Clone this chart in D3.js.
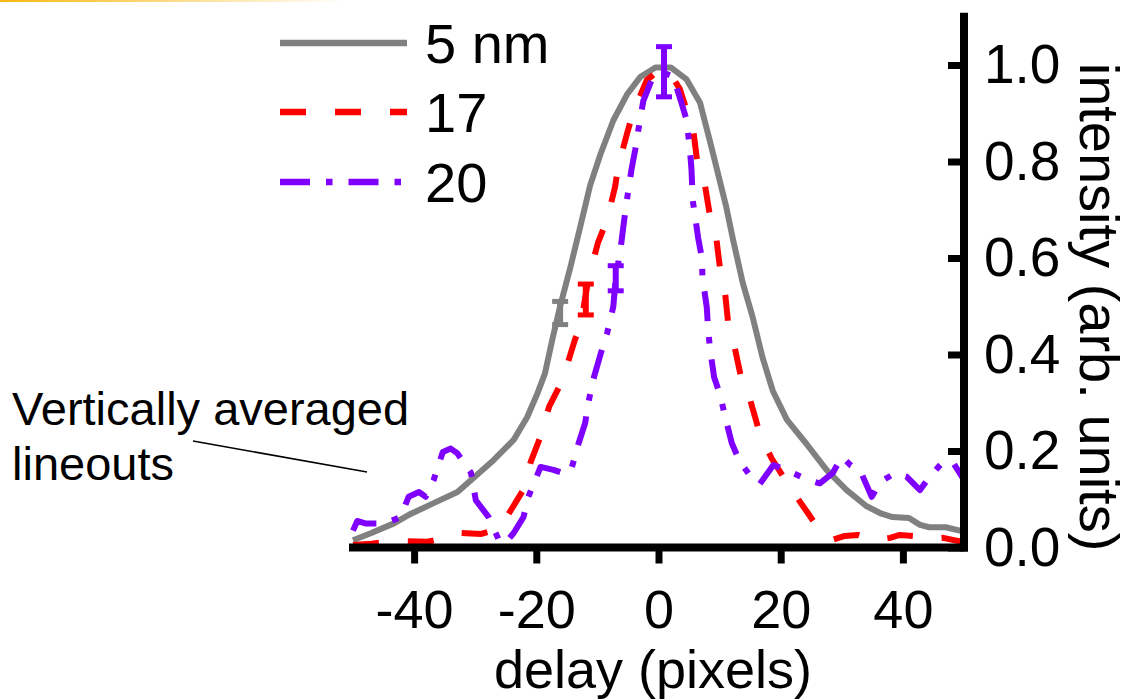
<!DOCTYPE html>
<html>
<head>
<meta charset="utf-8">
<script src="https://cdn.jsdelivr.net/npm/d3@7"></script>
<style>
  body { margin: 0; background: #fff; }
  text { font-family: "Liberation Sans", Arial, sans-serif; fill: #000; }
</style>
</head>
<body>
<div id="chart"></div>
<script>
// lineouts: delay (pixels) vs intensity (arb. units)
var delay5 = [-50, -47, -43.3, -40.5, -36.8, -32.9, -30.3, -27, -23.7, -21.5, -19.8, -18.6, -17.4, -16.1, -14.4, -12.8, -11.2, -9.5, -7.4, -5.1, -3, -0.5, 2, 4.6, 6.8, 8.7, 11.1, 12.2, 13.8, 15.4, 17, 18.7, 21, 24.2, 27.5, 30.8, 34, 36.5, 38.3, 41, 42.8, 44.3, 47, 50];
var int5 = [0.015, 0.03, 0.05, 0.07, 0.092, 0.115, 0.144, 0.181, 0.223, 0.27, 0.32, 0.36, 0.43, 0.5, 0.582, 0.665, 0.75, 0.815, 0.885, 0.94, 0.975, 0.995, 0.995, 0.97, 0.922, 0.828, 0.705, 0.638, 0.548, 0.478, 0.395, 0.325, 0.265, 0.215, 0.161, 0.119, 0.086, 0.07, 0.063, 0.061, 0.047, 0.042, 0.042, 0.033];

var delay17 = [-50, -47, -44, -41.7, -37.8, -35, -32.4, -29.1, -27, -24.8, -22.3, -20.9, -19.3, -17.9, -15.7, -13.7, -12.8, -11.7, -11.2, -9.9, -8.4, -7.1, -6.6, -5.1, -4.2, -1.9, 0.2, 1.9, 3.5, 4.6, 5.7, 6.3, 7.6, 8.4, 9.5, 10.1, 10.9, 11.4, 12.5, 13.6, 15, 16.6, 18.5, 21.5, 24.3, 26.4, 28.5, 30.5, 32.6, 35.4, 37.9, 39.5, 41.7, 44.4, 46.6, 50];
var int17 = [0.005, 0.008, 0.012, 0.013, 0.012, 0.02, 0.03, 0.028, 0.035, 0.064, 0.116, 0.178, 0.23, 0.292, 0.347, 0.43, 0.457, 0.54, 0.57, 0.632, 0.68, 0.748, 0.79, 0.86, 0.9, 0.969, 0.99, 0.983, 0.95, 0.907, 0.865, 0.803, 0.751, 0.689, 0.637, 0.575, 0.527, 0.465, 0.413, 0.347, 0.306, 0.235, 0.185, 0.125, 0.074, 0.035, 0.016, 0.024, 0.026, 0.015, 0.02, 0.026, 0.024, 0.018, 0.02, 0.011];

var delay20 = [-50, -49.3, -48, -45.8, -43.8, -42.2, -40.9, -39.2, -38.1, -36.8, -35.3, -34, -32.9, -30.7, -29.9, -27.8, -25.9, -24.7, -23.7, -22.1, -21.3, -19.3, -17.2, -15.8, -14.4, -13.1, -12, -11.5, -10.7, -9.5, -8.4, -7.4, -7, -6.2, -5.6, -5, -4.4, -3.8, -3.3, -2.5, -1.1, 0.7, 2.4, 3.8, 4.6, 5.15, 5.4, 5.6, 6.5, 7.1, 7.2, 7.9, 8.1, 8.4, 9.1, 10.1, 10.9, 12, 13.3, 15.5, 16.6, 18.8, 21.5, 24.5, 26.4, 28.5, 30, 31.5, 33, 34.9, 36.3, 38.7, 40.6, 42.8, 44.4, 46.6, 48.3, 50];
var int20 = [0.035, 0.055, 0.05, 0.05, 0.055, 0.063, 0.105, 0.115, 0.105, 0.14, 0.198, 0.205, 0.195, 0.155, 0.098, 0.063, 0.009, 0.015, 0.03, 0.063, 0.105, 0.167, 0.161, 0.155, 0.156, 0.215, 0.258, 0.299, 0.347, 0.4, 0.445, 0.499, 0.558, 0.62, 0.68, 0.735, 0.785, 0.825, 0.865, 0.925, 0.97, 0.985, 0.976, 0.92, 0.886, 0.824, 0.783, 0.72, 0.641, 0.6, 0.559, 0.498, 0.457, 0.415, 0.353, 0.316, 0.271, 0.216, 0.178, 0.14, 0.132, 0.171, 0.157, 0.14, 0.133, 0.154, 0.188, 0.17, 0.16, 0.105, 0.136, 0.154, 0.147, 0.119, 0.147, 0.178, 0.174, 0.14];

// error bars
var errDelay = [-16.1, -11.9, -7.0, 0.9];
var errInt = [0.486, 0.514, 0.558, 0.986];
var errHalf = [0.024, 0.032, 0.026, 0.052];
var errSeries = [0, 1, 2, 2];

var seriesNames = ["5 nm", "17", "20"];
var seriesColors = ["#808080", "#ff0000", "#7f00ff"];
var seriesDash = [null, "26,29", "30,16,6.5,16"];

var xMajor = [-40, -20, 0, 20, 40];
var xMinor = [-50, -30, -10, 10, 30, 50];
var yMajor = [0, 0.2, 0.4, 0.6, 0.8, 1.0];
var yMinor = [0.1, 0.3, 0.5, 0.7, 0.9, 1.1];

var width = 1134, height = 700;

var svg = d3.select("#chart").append("svg")
    .attr("width", width)
    .attr("height", height);

// thin golden stripe at the top left
var grad = svg.append("defs").append("linearGradient")
    .attr("id", "topfade")
    .attr("x1", "0").attr("x2", "1").attr("y1", "0").attr("y2", "0");
grad.append("stop").attr("offset", "0").attr("stop-color", "#f8b810");
grad.append("stop").attr("offset", "1").attr("stop-color", "#ffffff");
svg.append("rect")
    .attr("x", 0).attr("y", 0)
    .attr("width", 345).attr("height", 2)
    .attr("fill", "url(#topfade)");

var x = d3.scaleLinear().domain([-50, 50]).range([353, 964]);
var y = d3.scaleLinear().domain([0, 1.1]).range([547.5, 547.5 - 482.5 * 1.1]);

var series = [
    d3.zip(delay5, int5),
    d3.zip(delay17, int17),
    d3.zip(delay20, int20)
];

var line = d3.line()
    .x(function(d) { return x(d[0]); })
    .y(function(d) { return y(d[1]); });

series.forEach(function(s, i) {
    svg.append("path")
        .datum(s)
        .attr("d", line)
        .attr("fill", "none")
        .attr("stroke", seriesColors[i])
        .attr("stroke-width", 6)
        .attr("stroke-linejoin", "round")
        .attr("stroke-dasharray", seriesDash[i]);
});

// error bars
errDelay.forEach(function(d, i) {
    var g = svg.append("g")
        .attr("stroke", seriesColors[errSeries[i]]);
    var cx = x(d);
    var top = y(errInt[i] + errHalf[i]);
    var bot = y(errInt[i] - errHalf[i]);
    g.append("line")
        .attr("x1", cx).attr("x2", cx)
        .attr("y1", top).attr("y2", bot)
        .attr("stroke-width", 6);
    [top, bot].forEach(function(yy) {
        g.append("line")
            .attr("x1", cx - 8).attr("x2", cx + 8)
            .attr("y1", yy).attr("y2", yy)
            .attr("stroke-width", 5);
    });
});

// bottom axis
var xAxisG = svg.append("g").attr("transform", "translate(0," + y(0) + ")");
xAxisG.call(d3.axisBottom(x).tickValues(xMinor).tickSize(9).tickSizeOuter(0).tickFormat(""));
xAxisG.call(d3.axisBottom(x).tickValues(xMajor).tickSize(16).tickSizeOuter(0).tickPadding(26)
    .tickFormat(function(d) { return String(d); }));
xAxisG.selectAll(".domain").remove();
xAxisG.selectAll(".tick line").attr("stroke", "#000").attr("stroke-width", 7);
xAxisG.selectAll(".tick text")
    .attr("font-size", 54)
    .attr("font-family", null);
xAxisG.append("line")
    .attr("x1", x(-50)).attr("x2", x(50))
    .attr("y1", 0).attr("y2", 0)
    .attr("stroke", "#000")
    .attr("stroke-width", 8)
    .attr("stroke-linecap", "square");

// right axis, ticks pointing inward
var yAxisG = svg.append("g").attr("transform", "translate(" + x(50) + ",0)");
yAxisG.call(d3.axisRight(y).tickValues(yMinor).tickSize(-9).tickSizeOuter(0).tickFormat(""));
yAxisG.call(d3.axisRight(y).tickValues(yMajor).tickSize(-16).tickSizeOuter(0).tickPadding(20)
    .tickFormat(d3.format(".1f")));
yAxisG.selectAll(".domain").remove();
yAxisG.selectAll(".tick line").attr("stroke", "#000").attr("stroke-width", 7);
yAxisG.selectAll(".tick text")
    .attr("font-size", 55)
    .attr("font-family", null);
yAxisG.append("line")
    .attr("x1", 0).attr("x2", 0)
    .attr("y1", y(0)).attr("y2", y(1.1))
    .attr("stroke", "#000")
    .attr("stroke-width", 8)
    .attr("stroke-linecap", "square");

// axis titles
svg.append("text")
    .attr("x", 653)
    .attr("y", 688)
    .attr("text-anchor", "middle")
    .attr("font-size", 54)
    .text("delay (pixels)");

svg.append("text")
    .attr("transform", "translate(1080,307) rotate(90)")
    .attr("text-anchor", "middle")
    .attr("font-size", 56)
    .text("intensity (arb. units)");

// legend
var legendY = [43, 112, 182];
seriesNames.forEach(function(name, i) {
    svg.append("line")
        .attr("x1", 280).attr("x2", 407)
        .attr("y1", legendY[i]).attr("y2", legendY[i])
        .attr("stroke", seriesColors[i])
        .attr("stroke-width", 6.5)
        .attr("stroke-dasharray", seriesDash[i]);
    svg.append("text")
        .attr("x", 425)
        .attr("y", legendY[i] + 20)
        .attr("font-size", 56)
        .text(name);
});

// annotation
svg.append("text")
    .attr("x", 12)
    .attr("y", 425)
    .attr("font-size", 47)
    .text("Vertically averaged");
svg.append("text")
    .attr("x", 12)
    .attr("y", 480)
    .attr("font-size", 47)
    .text("lineouts");
svg.append("line")
    .attr("x1", 193).attr("y1", 441)
    .attr("x2", 367).attr("y2", 472)
    .attr("stroke", "#000")
    .attr("stroke-width", 1.5);
</script>
</body>
</html>
